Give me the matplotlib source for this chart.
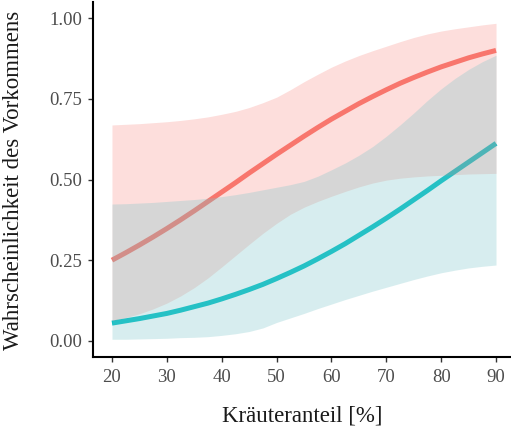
import matplotlib
matplotlib.use("Agg")
import matplotlib.pyplot as plt

# data
x = [20, 22.5, 25, 27.5, 30, 32.5, 35, 37.5, 40, 42.5, 45, 47.5, 50, 52.5, 55,
     57.5, 60, 62.5, 65, 67.5, 70, 72.5, 75, 77.5, 80, 82.5, 85, 87.5, 90]

red_fit = [0.250, 0.273, 0.297, 0.322, 0.348, 0.375, 0.403, 0.432, 0.461, 0.490, 0.520, 0.549, 0.578, 0.606, 0.634,
           0.661, 0.687, 0.711, 0.735, 0.757, 0.778, 0.798, 0.816, 0.833, 0.849, 0.863, 0.877, 0.889, 0.900]
red_lo = [0.063, 0.072, 0.084, 0.099, 0.117, 0.139, 0.165, 0.195, 0.229, 0.264, 0.299, 0.333, 0.364, 0.392, 0.414,
          0.432, 0.448, 0.463, 0.477, 0.489, 0.498, 0.504, 0.508, 0.511, 0.513, 0.515, 0.517, 0.518, 0.519]
red_hi = [0.669, 0.671, 0.673, 0.676, 0.679, 0.683, 0.688, 0.694, 0.702, 0.711, 0.723, 0.738, 0.755, 0.778, 0.803,
          0.826, 0.848, 0.867, 0.884, 0.899, 0.913, 0.927, 0.940, 0.951, 0.960, 0.967, 0.973, 0.979, 0.984]

teal_fit = [0.055, 0.062, 0.069, 0.077, 0.085, 0.095, 0.106, 0.117, 0.130, 0.144, 0.159, 0.175, 0.193, 0.212, 0.232,
            0.254, 0.277, 0.301, 0.327, 0.353, 0.380, 0.408, 0.437, 0.466, 0.496, 0.525, 0.554, 0.583, 0.612]
teal_lo = [0.005, 0.005, 0.006, 0.007, 0.008, 0.010, 0.011, 0.013, 0.017, 0.022, 0.029, 0.040, 0.057, 0.071, 0.085,
           0.100, 0.114, 0.128, 0.141, 0.154, 0.166, 0.178, 0.190, 0.201, 0.211, 0.219, 0.226, 0.231, 0.235]
teal_hi = [0.424, 0.425, 0.427, 0.429, 0.432, 0.435, 0.438, 0.442, 0.447, 0.453, 0.460, 0.468, 0.476, 0.484, 0.494,
           0.510, 0.530, 0.551, 0.575, 0.602, 0.634, 0.669, 0.706, 0.745, 0.781, 0.813, 0.841, 0.865, 0.885]

x_ticks = [20, 30, 40, 50, 60, 70, 80, 90]
y_ticks = [0.00, 0.25, 0.50, 0.75, 1.00]
y_tick_labels = ["0.00", "0.25", "0.50", "0.75", "1.00"]

RED = "#F8766D"
TEAL = "#00BFC4"
TEAL_FILL = "#7DC6CA"

plt.rcParams["font.family"] = ["Liberation Serif", "DejaVu Serif"]

W, H = 511, 433
fig = plt.figure(figsize=(W / 100, H / 100), dpi=100)
ax = fig.add_axes([93 / W, 76 / H, (W - 93) / W, (357 - 2) / H])

# lines first, ribbons drawn on top (as in the reference)
ax.plot(x, red_fit, color=RED, lw=3.6, solid_capstyle="butt", zorder=1)
ax.plot(x, teal_fit, color=TEAL, lw=3.6, solid_capstyle="butt", zorder=1)
ax.fill_between(x, red_lo, red_hi, color=RED, alpha=0.24, lw=0, zorder=2)
ax.fill_between(x, teal_lo, teal_hi, color=TEAL_FILL, alpha=0.30, lw=0, zorder=3)

ax.set_xlim(16.54, 92.73)
ax.set_ylim(-0.05, 1.05)
ax.set_xticks(x_ticks)
ax.set_yticks(y_ticks)
ax.set_yticklabels(y_tick_labels)

for s in ["top", "right"]:
    ax.spines[s].set_visible(False)
for s in ["left", "bottom"]:
    ax.spines[s].set_linewidth(1.5)
    ax.spines[s].set_color("black")

ax.tick_params(axis="both", direction="out", length=3.5, width=1.0, color="#333333",
               labelcolor="#4D4D4D", labelsize=13.5)
ax.tick_params(axis="x", pad=5.5)
ax.tick_params(axis="y", pad=4)

fig.text(302 / W, 1 - 416 / H, "Kräuteranteil [%]", fontsize=16.5, color="#1A1A1A",
         ha="center", va="center")
fig.text(14 / W, 1 - 180 / H, "Wahrscheinlichkeit des Vorkommens", fontsize=16.5,
         color="#1A1A1A", ha="center", va="center", rotation=90)

fig.savefig("out.png", dpi=100)
